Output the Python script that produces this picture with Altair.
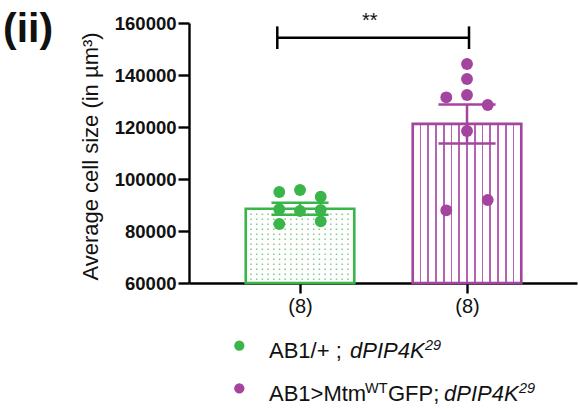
import json
import altair as alt
import pandas as pd

# ---------------- data ----------------
group_names = ["AB1/+ ; dPIP4K29", "AB1>MtmWTGFP; dPIP4K29"]
group_pos = [1, 2]
group_colors = ["#3AB54A", "#A3449F"]
bar_mean = [88580, 121200]
bar_sem = [2310, 7500]
n_labels = ["(8)", "(8)"]

point_group = [0, 0, 0, 0, 0, 0, 0, 0, 1, 1, 1, 1, 1, 1, 1, 1]
point_col = [-1, 0, 1, -1, 0, 1, -1, 1, 0, 0, -1, 0, 1, 0, -1, 1]
point_value = [95000, 95770, 93190, 88350, 87690, 88080, 82690, 83730,
               144230, 138460, 131420, 132310, 128460, 118460, 87960, 91920]

y_ticks = [60000, 80000, 100000, 120000, 140000, 160000]
y_title = "Average cell size (in µm³)"
panel_label = "(ii)"
sig_x = [0.864, 2.012]
sig_y = 154350
sig_text = "**"

legend_texts = ["AB1/+ ; ", "dPIP4K", "29", "AB1>Mtm", "WT", "GFP;", "dPIP4K", "29"]
legend_row = [0, 0, 0, 1, 1, 1, 1, 1]
legend_italic = [False, True, True, False, False, False, True, True]
legend_super = [False, False, True, False, True, False, False, True]

# ---------------- layout / style ----------------
FONT = "Liberation Sans"
W, H = 388, 260
x_domain = [0.3353, 0.3353 + W / 167.0]
y_domain = [60000, 160000]
legend_seg_x = [80, 161, 236, 80, 176, 199, 255, 330]
legend_base_y = [335.3, 377.7]
legend_dot = [(50.3, 322.7), (50.3, 365.3)]

bars = pd.DataFrame({"group": group_names, "pos": group_pos,
                     "mean": bar_mean, "sem": bar_sem})
points = pd.DataFrame({
    "group": [group_names[g] for g in point_group],
    "pos": [group_pos[g] for g in point_group],
    "col": point_col,
    "value": point_value,
})

xscale = alt.Scale(domain=x_domain, nice=False, zero=False)
yscale = alt.Scale(domain=y_domain, nice=False, zero=False)
color = alt.Color("group:N", scale=alt.Scale(domain=group_names, range=group_colors), legend=None)

x_axis = alt.Axis(values=group_pos, labelExpr=f"{json.dumps(n_labels)}[datum.value - 1]",
                  title=None, grid=False, tickSize=10, tickWidth=2.4, domainWidth=2.4,
                  domainColor="black", tickColor="black", labelFontSize=20,
                  labelFont=FONT, labelColor="#111111", labelPadding=3)
y_axis = alt.Axis(values=y_ticks, format="d", grid=False, tickSize=11, tickWidth=2.4,
                  domainWidth=2.4, domainColor="black", tickColor="black",
                  labelFontSize=18.5, labelFontWeight="bold", labelFont=FONT,
                  labelColor="#111111", labelPadding=2, title=y_title, titleFont=FONT,
                  titleFontSize=22, titleFontWeight="normal", titleColor="#111111",
                  titleX=-92, titleY=133, titleAngle=270, titleAlign="center",
                  titleBaseline="alphabetic")


def X(f):
    return alt.X(f, type="quantitative", scale=xscale, axis=x_axis)


def Y(f):
    return alt.Y(f, type="quantitative", scale=yscale, axis=y_axis)


base_bars = alt.Chart(bars).transform_calculate(
    x1="datum.pos - 0.325", x2="datum.pos + 0.325",
    lo="datum.mean - datum.sem", hi="datum.mean + datum.sem",
    c1="datum.pos - 0.171", c2="datum.pos + 0.171", base="60000")

green_bar = base_bars.transform_filter(alt.datum.pos == group_pos[0]).mark_rect(
    fill="white", stroke=group_colors[0], strokeWidth=2.6).encode(
    x=X("x1"), x2="x2:Q", y=Y("base"), y2="mean:Q")

# purple vertical stripe pattern as a hard-stop gradient
n_str = 14
w = 0.0075
stops = [alt.GradientStop(color="white", offset=0)]
for k in range(1, n_str):
    o = k / n_str
    stops += [alt.GradientStop(color="white", offset=o - w),
              alt.GradientStop(color="#B463B1", offset=o - w),
              alt.GradientStop(color="#B463B1", offset=o + w),
              alt.GradientStop(color="white", offset=o + w)]
stops.append(alt.GradientStop(color="white", offset=1))
stripes = alt.Gradient(gradient="linear", stops=stops, x1=0, x2=1, y1=0, y2=0)

purple_bar = base_bars.transform_filter(alt.datum.pos == group_pos[1]).mark_rect(
    fill=stripes, stroke=group_colors[1], strokeWidth=2.6).encode(
    x=X("x1"), x2="x2:Q", y=Y("base"), y2="mean:Q")

# green dotted pattern rows
dots = alt.Chart(alt.sequence(0, 14, as_="r")).transform_calculate(
    yv="60000 + 1423 + datum.r * 1923",
    xa=f"{group_pos[0]} - 0.298", xb=f"{group_pos[0]} + 0.31").transform_filter(
    f"datum.yv < {bar_mean[0]} - 700").mark_rule(
    strokeDash=[1.5, 4.2], strokeWidth=1.5, color="#7CCC86").encode(
    x=X("xa"), x2="xb:Q", y=Y("yv"))

err_v = base_bars.mark_rule(strokeWidth=2.5).encode(
    x=X("pos"), y=Y("lo"), y2="hi:Q", color=color)
cap_hi = base_bars.mark_rule(strokeWidth=2.5).encode(
    x=X("c1"), x2="c2:Q", y=Y("hi"), color=color)
cap_lo = base_bars.mark_rule(strokeWidth=2.5).encode(
    x=X("c1"), x2="c2:Q", y=Y("lo"), color=color)

pts = alt.Chart(points).transform_calculate(
    xp="datum.pos + datum.col * 0.124").mark_circle(size=140, opacity=1).encode(
    x=X("xp"), y=Y("value"), color=color)

# significance bracket
sig = pd.DataFrame({"xa": [sig_x[0]], "xb": [sig_x[1]], "y": [sig_y], "t": [sig_text]})
sig_base = alt.Chart(sig).transform_calculate(
    ylo="datum.y - 4350", yhi="datum.y + 4350", xm="(datum.xa + datum.xb) / 2 - 0.02",
    yt="datum.y + 4100")
sig_h = sig_base.mark_rule(strokeWidth=2.5, color="black").encode(
    x=X("xa"), x2="xb:Q", y=Y("y"))
sig_l = sig_base.mark_rule(strokeWidth=2.5, color="black").encode(
    x=X("xa"), y=Y("ylo"), y2="yhi:Q")
sig_r = sig_base.mark_rule(strokeWidth=2.5, color="black").encode(
    x=X("xb"), y=Y("ylo"), y2="yhi:Q")
sig_t = sig_base.mark_text(fontSize=20, font=FONT, color="#111111", align="center",
                           baseline="alphabetic").encode(
    x=X("xm"), y=Y("yt"), text="t:N")

one = pd.DataFrame({"k": [0]})
layers = [green_bar, purple_bar, dots, err_v, cap_hi, cap_lo, pts, sig_h, sig_l, sig_r, sig_t]

# panel label
layers.append(alt.Chart(one).mark_text(text=panel_label, fontSize=41, fontWeight="bold",
                                       font=FONT, align="left", baseline="alphabetic",
                                       color="#111111").encode(
    x=alt.value(-186), y=alt.value(18.5)))

# custom legend
for i, (dx, dy) in enumerate(legend_dot):
    layers.append(alt.Chart(one).mark_circle(size=105, opacity=1, color=group_colors[i]).encode(
        x=alt.value(dx), y=alt.value(dy)))
for t, r, it, sp, sx in zip(legend_texts, legend_row, legend_italic, legend_super, legend_seg_x):
    layers.append(alt.Chart(one).mark_text(
        text=t, fontSize=14.5 if sp else 22, fontStyle="italic" if it else "normal",
        font=FONT, align="left", baseline="alphabetic", color="#111111").encode(
        x=alt.value(sx), y=alt.value(legend_base_y[r] - (8 if sp else 0))))

chart = alt.layer(*layers).properties(
    width=W, height=H,
    padding={"left": 189, "top": 23, "right": 1, "bottom": 126},
    autosize=alt.AutoSizeParams(type="none"),
    background="white",
).configure_view(stroke=None)

chart.save("out.html", embed_options={"renderer": "svg", "actions": False})
